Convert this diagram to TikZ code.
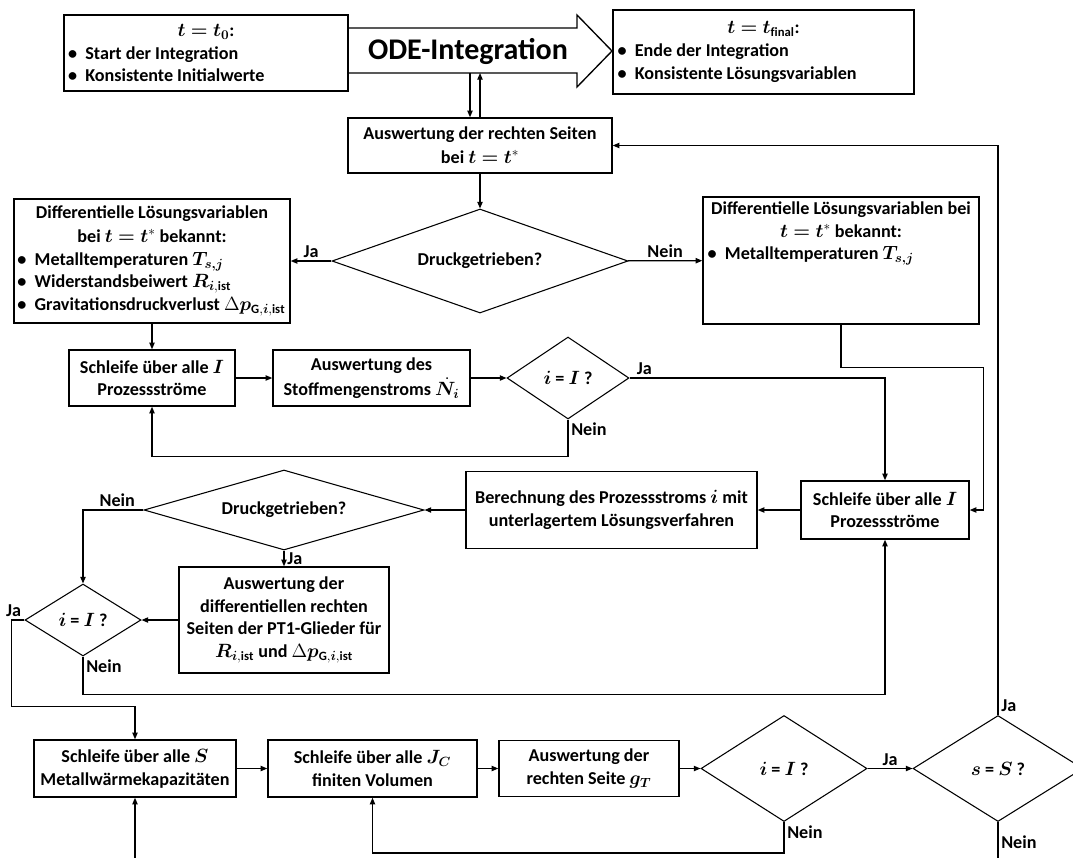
\documentclass[tikz,border=0pt]{standalone}
\usepackage{amsmath}
\usepackage{bm}
\usepackage{fontspec}
\setmainfont{Carlito}
\usetikzlibrary{shapes.geometric,arrows.meta,calc}

\def\px{0.75pt}
\newcommand{\bul}{\makebox[13pt][l]{•}}

\tikzset{
  every node/.style={font=\fontsize{13.6}{17}\selectfont\bfseries},
  sz/.style 2 args={minimum width=#1*\px, minimum height=#2*\px},
  box/.style={draw, line width=1.1pt, align=center, inner sep=2pt},
  dia/.style={draw, diamond, line width=0.8pt, inner sep=0pt, align=center},
  arr/.style={line width=0.9pt, -{Triangle[length=5pt,width=4pt]}},
  con/.style={line width=0.9pt},
  lbl/.style={inner sep=2pt}
}

\begin{document}
\begin{tikzpicture}[x=\px, y=-\px]
\useasboundingbox (0,0) rectangle (1073,857);
\clip (0,0) rectangle (1073,857);

% Start, ODE arrow and end

\node[box, sz={284}{76}, align=left] (t0) at (206,53)
  {\makebox[207pt][c]{$\bm{t=t_0}$:}\\ \bul Start der Integration\\ \bul Konsistente Initialwerte};
\draw[line width=1pt] (348,28) -- (577,28) -- (577,15) -- (612,51) -- (577,87) -- (577,73) -- (348,73);
\node (ode) at (468,51) {\fontsize{22.5}{27}\selectfont ODE-Integration};
\coordinate (odes) at (475,73);
\node[box, sz={301}{84}, align=left] (tfin) at (763.5,52)
  {\makebox[219pt][c]{$\bm{t=t}_{\mathbf{final}}$:}\\ \bul Ende der Integration\\ \bul Konsistente Lösungsvariablen};

% Upper part

\node[box, sz={264}{55}] (ausw) at (480,145.5) {Auswertung der rechten Seiten\\[1pt]bei $\bm{t=t}^*$};
\node[dia, sz={296}{104}, aspect=2.85] (dr1) at (480,261) {Druckgetrieben?};
\node[box, sz={276}{124}, align=left] (diff1) at (152,261)
  {\makebox[202pt][c]{Differentielle Lösungsvariablen}\\[1pt]
   \makebox[202pt][c]{bei $\bm{t=t}^*$ bekannt:}\\
   \bul Metalltemperaturen $\bm{T_{s,j}}$\\
   \bul Widerstandsbeiwert $\bm{R}_{\bm{i},\mathbf{ist}}$\\
   \bul Gravitationsdruckverlust $\Delta\bm{p}_{\mathbf{G},\bm{i},\mathbf{ist}}$};
\node[box, sz={276}{127}] (diff2) at (841,260.5)
  {\parbox[c][88pt][t]{200pt}{\makebox[200pt][c]{Differentielle Lösungsvariablen bei}\\
   \makebox[200pt][c]{$\bm{t=t}^*$ bekannt:}\\
   \bul Metalltemperaturen $\bm{T_{s,j}}$}};
\node[box, sz={166}{56}] (schl1) at (152,378) {Schleife über alle $\bm{I}$\\Prozessströme};
\node[box, sz={197}{56}] (stoff) at (371.5,378) {Auswertung des\\[1.5pt]Stoffmengenstroms $\bm{\dot N_i}$};
\node[dia, sz={122}{82}, aspect=1.49] (i1) at (568,378) {$\bm{i}$ = $\bm{I}$ ?};

% Middle part

\node[box, sz={168}{58}] (schl2) at (885,510) {Schleife über alle $\bm{I}$\\Prozessströme};
\node[box, sz={291}{77}] (ber) at (611.5,510) {Berechnung des Prozessstroms $\bm{i}$ mit\\unterlagertem Lösungsverfahren};
\node[dia, sz={280}{80}, aspect=3.5] (dr2) at (284,510) {Druckgetrieben?};
\node[box, sz={210}{106}] (pt1) at (284,620)
  {Auswertung der\\differentiellen rechten\\Seiten der PT1-Glieder für\\$\bm{R}_{\bm{i},\mathbf{ist}}$ und $\Delta\bm{p}_{\mathbf{G},\bm{i},\mathbf{ist}}$};
\node[dia, sz={116}{72}, aspect=1.61] (i2) at (83,620) {$\bm{i}$ = $\bm{I}$ ?};

% Lower part

\node[box, sz={202}{57}] (schl3) at (135,768.5) {Schleife über alle $\bm{S}$\\Metallwärmekapazitäten};
\node[box, sz={209}{57}] (schl4) at (372.5,768.5) {Schleife über alle $\bm{J_C}$\\finiten Volumen};
\node[box, sz={180}{56}] (gT) at (589,768.5) {Auswertung der\\rechten Seite $\bm{g_T}$};
\node[dia, sz={166}{106}, aspect=1.57] (i3) at (784,768.5) {$\bm{i}$ = $\bm{I}$ ?};
\node[dia, sz={170}{106}, aspect=1.6] (sS) at (998,768.5) {$\bm{s}$ = $\bm{S}$ ?};
\coordinate (offs) at (998,880);
\coordinate (offl) at (135,880);

% Connectors

\draw[arr] ($(odes)+(-5,0)$) -- ($(ausw.north)+(-10,0)$);
\draw[arr] (ausw.north) -- ($(odes)+(5,0)$);
\draw[arr] (ausw) -- (dr1);
\draw[arr] (dr1) -- node[lbl, above] (ja1) {Ja} (diff1);
\draw[arr] (dr1) -- node[lbl, above] (nein1) {Nein} (diff2);
\draw[arr] (diff1) -- (schl1);
\foreach \a/\b in {schl1/stoff, stoff/i1, schl2/ber, ber/dr2, pt1/i2, schl3/schl4, schl4/gT, gT/i3}
  {\draw[arr] (\a) -- (\b);}
\draw[arr] (i3) -- node[lbl, above] (ja5) {Ja} (sS);
\draw[arr] (i1.east) node[lbl, above right, xshift=3pt] (ja2) {Ja} -| (schl2.north);
\draw[arr] (i1.south) node[lbl, below right] (nein2) {Nein} -- ++(0,37) -| (schl1.south);
\draw[arr] (diff2.south) -- ++(0,43) -| ($(schl2.east)+(14,0)$) -- (schl2.east);
\draw[arr] (dr2.west) node[lbl, above left, xshift=-4pt] (nein3) {Nein} -| (i2.north);
\draw[arr] (dr2.south) -- node[lbl, right] (ja3) {Ja} (pt1.north);
\draw[arr] (i2.west) node[lbl, above left] (ja4) {Ja} -- ++(-13,0) |- ($(schl3.north)+(0,-33)$) -- (schl3.north);
\draw[arr] (i2.south) node[lbl, below right] (nein4) {Nein} -- ++(0,38) -| (schl2.south);
\draw[arr] (i3.south) node[lbl, below right] (nein5) {Nein} -- ++(0,31) -| (schl4.south);
\draw[arr] (sS.north) node[lbl, above right] (ja6) {Ja} |- (ausw.east);
\draw[con] (sS.south) node[lbl, below right, yshift=-8pt] (nein6) {Nein} -- (offs);
\draw[arr] (offl) -- (schl3.south);

\end{tikzpicture}
\end{document}
